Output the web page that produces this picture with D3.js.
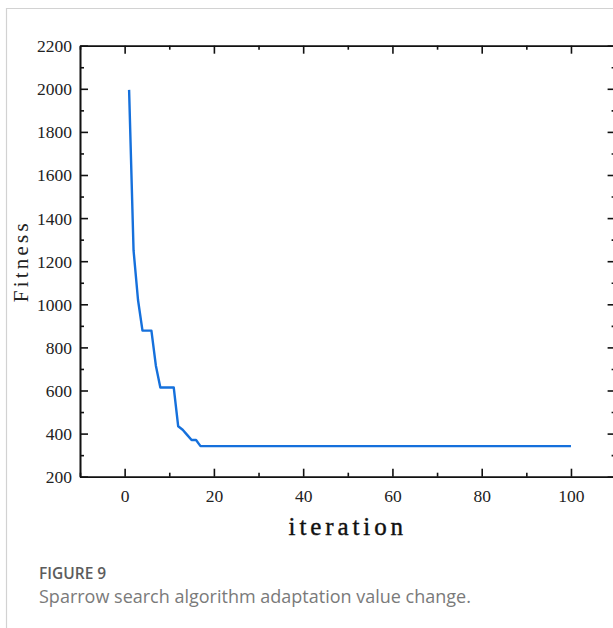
<!DOCTYPE html>
<html>
<head>
<meta charset="utf-8">
<script src="https://cdn.jsdelivr.net/npm/d3@7"></script>
<style>
  body { margin: 0; background: #fff; }
  svg { display: block; }
</style>
</head>
<body>
<div id="chart"></div>
<script>
// data (breakpoints of the convergence curve)
var iterations = [1, 2, 3, 4, 6, 7, 8, 11, 12, 13, 14, 15, 16, 17, 100];
var fitness = [1995, 1250, 1020, 878, 878, 715, 614, 614, 434, 418, 394, 370, 370, 342, 342];

// tick values
var xMajorTicks = [0, 20, 40, 60, 80, 100];
var xMinorTicks = [-10, 10, 30, 50, 70, 90, 110];
var yMajorTicks = [200, 400, 600, 800, 1000, 1200, 1400, 1600, 1800, 2000, 2200];
var yMinorTicks = [300, 500, 700, 900, 1100, 1300, 1500, 1700, 1900, 2100];

var xLabel = "iteration";
var yLabel = "Fitness";
var figTitle = "FIGURE 9";
var figCaption = "Sparrow search algorithm adaptation value change.";

// svg container
var svgWidth = 613;
var svgHeight = 628;

var margin = {
  top: 45.7,
  left: 80,
};
var width = 535.6;
var height = 431;

var svg = d3
  .select("#chart")
  .append("svg")
  .attr("width", svgWidth)
  .attr("height", svgHeight);

// light frame around the figure
svg
  .append("path")
  .attr("d", "M613,8.5 L6.5,8.5 L6.5,628")
  .attr("fill", "none")
  .attr("stroke", "#d2d2d2")
  .attr("stroke-width", 1.2);

var chartGroup = svg
  .append("g")
  .attr("transform", `translate(${margin.left}, ${margin.top})`);

// scales
var xScale = d3.scaleLinear().domain([-10, 110]).range([0, width]);
var yScale = d3.scaleLinear().domain([200, 2200]).range([height, 0]);

// helper to draw an axis with inward ticks
function drawAxis(axisFn, scale, ticks, size, transform, labels) {
  var axis = axisFn(scale)
    .tickValues(ticks)
    .tickSize(-size)
    .tickSizeOuter(0)
    .tickPadding(10)
    .tickFormat(labels ? d3.format("d") : "");
  var g = chartGroup.append("g").attr("transform", transform).call(axis);
  g.selectAll("line").attr("stroke", "#111").attr("stroke-width", 1.6);
  g.select(".domain").attr("stroke", "#111").attr("stroke-width", 1.6);
  g.selectAll("text")
    .style("font-family", "Liberation Serif, serif")
    .style("font-size", "17.5px")
    .attr("fill", "#222");
  return g;
}

// bottom / top
drawAxis(d3.axisBottom, xScale, xMajorTicks, 8, `translate(0, ${height})`, true)
  .selectAll("text")
  .attr("dy", "0.9em");
drawAxis(d3.axisBottom, xScale, xMinorTicks, 4, `translate(0, ${height})`, false);
drawAxis(d3.axisTop, xScale, xMajorTicks, 8, "translate(0, 0)", false);
drawAxis(d3.axisTop, xScale, xMinorTicks, 4, "translate(0, 0)", false);

// left / right
drawAxis(d3.axisLeft, yScale, yMajorTicks, 8, "translate(0, 0)", true)
  .selectAll("text")
  .attr("x", -8)
  .attr("dy", "0.34em");
drawAxis(d3.axisLeft, yScale, yMinorTicks, 4, "translate(0, 0)", false);
drawAxis(d3.axisRight, yScale, yMajorTicks, 8, `translate(${width}, 0)`, false);
drawAxis(d3.axisRight, yScale, yMinorTicks, 4, `translate(${width}, 0)`, false);

// curve
var lineData = iterations.map(function (d, i) {
  return { x: d, y: fitness[i] };
});

var line = d3
  .line()
  .x((d) => xScale(d.x))
  .y((d) => yScale(d.y));

chartGroup
  .append("path")
  .datum(lineData)
  .attr("d", line)
  .attr("fill", "none")
  .attr("stroke", "#1570dc")
  .attr("stroke-width", 2.4)
  .attr("stroke-linejoin", "round");

// axis labels
chartGroup
  .append("text")
  .attr("x", xScale(50))
  .attr("y", height + 58)
  .attr("text-anchor", "middle")
  .attr("font-family", "Liberation Serif, serif")
  .attr("font-size", 25)
  .attr("letter-spacing", 3.9)
  .attr("fill", "#111")
  .attr("stroke", "#111")
  .attr("stroke-width", 0.4)
  .text(xLabel);

chartGroup
  .append("text")
  .attr("transform", `translate(${-52}, ${yScale(1200)}) rotate(-90)`)
  .attr("text-anchor", "middle")
  .attr("font-family", "Liberation Serif, serif")
  .attr("font-size", 21)
  .attr("letter-spacing", 3.2)
  .attr("fill", "#222")
  .text(yLabel);

// caption
svg
  .append("text")
  .attr("x", 39)
  .attr("y", 579)
  .attr("font-family", "Open Sans, sans-serif")
  .attr("font-size", 15.5)
  .attr("font-weight", 600)
  .attr("fill", "#5c5c5c")
  .text(figTitle);

svg
  .append("text")
  .attr("x", 39)
  .attr("y", 603)
  .attr("font-family", "Open Sans, sans-serif")
  .attr("font-size", 18)
  .attr("fill", "#7a7a7a")
  .text(figCaption);
</script>
</body>
</html>
